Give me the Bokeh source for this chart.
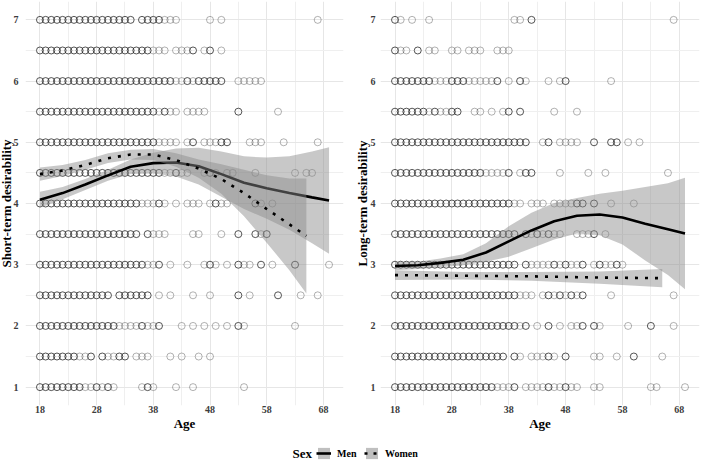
from bokeh.plotting import figure
from bokeh.models import ColumnDataSource, Range1d, FixedTicker, Legend, LegendItem, Label
from bokeh.layouts import column, row
from bokeh.embed import file_html
from bokeh.resources import INLINE

# ---------------- data ----------------
X_TICKS = [18, 28, 38, 48, 58, 68]
X_MINOR = [23, 33, 43, 53, 63]
Y_TICKS = [1, 2, 3, 4, 5, 6, 7]
Y_MINOR = [1.5, 2.5, 3.5, 4.5, 5.5, 6.5]

# Short-term desirability: ages present at each score
ST_AGES = {
    7.0: [18,19,20,21,22,23,24,25,26,27,28,29,30,31,32,33,34,36,37,38,39,40,41,42,48,50,67],
    6.5: [18,19,20,21,22,23,24,25,26,27,28,29,30,31,32,33,34,35,36,37,38,39,40,42,43,44,45,47,48,50],
    6.0: [18,19,20,21,22,23,24,25,26,27,28,29,30,31,32,33,34,35,36,37,38,39,40,41,42,43,44,45,46,47,48,49,50,53,54,55,56,57],
    5.5: [18,19,20,21,22,23,24,25,26,27,28,29,30,31,32,33,34,35,36,37,38,39,40,41,42,44,45,46,47,53,60],
    5.0: [18,19,20,21,22,23,24,25,26,27,28,29,30,31,32,33,34,35,36,37,38,39,40,41,42,44,45,47,48,49,50,51,55,56,57,61,67],
    4.5: [18,19,20,21,22,23,24,25,26,27,28,29,30,31,32,33,34,35,36,37,38,39,40,41,42,43,44,47,48,49,51,52,56,63,65,66],
    4.0: [18,19,20,21,22,23,24,25,26,27,28,29,30,31,32,33,34,35,36,37,38,39,40,42,44,45,46,48,49,50,51,56,57,59],
    3.5: [18,19,20,21,22,23,24,25,26,27,28,29,30,31,32,33,34,35,37,38,39,40,45,46,50,53,56,57,58],
    3.0: [18,19,20,21,22,23,24,25,26,27,28,29,30,31,32,33,34,35,36,37,38,39,41,44,47,48,49,51,53,54,55,57,59,63,69],
    2.5: [18,19,20,21,22,23,24,25,26,27,28,29,30,32,33,34,35,36,37,39,41,45,48,53,55,60,64,67],
    2.0: [18,19,20,21,22,23,24,25,26,27,28,29,30,31,32,33,34,35,36,37,38,39,43,45,47,49,51,53,54,63],
    1.5: [18,19,20,21,22,23,24,25,26,27,29,30,31,32,33,35,36,37,41,43,46,48],
    1.0: [18,19,20,21,22,23,24,25,26,27,28,29,30,31,36,37,38,42,45,54],
}
# ages drawn as faint (single respondent) circles
ST_SINGLE = {
    7.0: [40,41,42,48,50,67],
    6.5: [38,39,40,42,43,44,47,50],
    6.0: [42,43,45,53,54,55,56,57],
    5.5: [39,41,42,44,45,46,47,60],
    5.0: [39,40,41,42,44,47,48,49,55,56,57,61,67],
    4.5: [40,41,43,44,47,49,51,52,56,63,65,66],
    4.0: [36,37,38,40,42,44,45,46,48,50,51,57,59],
    3.5: [38,39,40,45,46,50,57],
    3.0: [37,38,41,44,47,49,51,54,55,59,69],
    2.5: [39,41,45,48,55,64,67],
    2.0: [32,33,34,35,37,38,43,45,47,49,51,54,63],
    1.5: [25,26,30,31,35,36,37,41,43,46,48],
    1.0: [26,27,29,31,36,38,42,45,54],
}

# Long-term desirability
LT_AGES = {
    7.0: [18,19,21,24,39,40,42,67],
    6.5: [18,19,20,22,24,25,28,29,31,32,33,36,37,38],
    6.0: [18,19,20,21,22,23,24,25,26,27,28,29,30,31,32,33,34,35,36,38,40,41,45,47,48,56],
    5.5: [18,19,20,21,22,23,24,25,26,27,28,29,32,33,35,37,38,40,46,50],
    5.0: [18,19,20,21,22,23,24,25,26,27,28,29,30,31,32,33,34,35,36,37,38,39,40,41,44,45,47,48,49,50,53,56,57,59,61],
    4.5: [18,19,20,21,22,23,24,25,26,27,28,29,30,31,32,33,34,35,36,37,38,40,41,42,47,52,55,66],
    4.0: [18,19,20,21,22,23,24,25,26,27,28,29,30,31,32,33,34,35,36,37,38,39,40,42,43,44,46,47,48,49,50,51,53,56,60],
    3.5: [18,19,20,21,22,23,24,25,26,27,28,29,30,31,32,33,34,35,36,37,38,39,41,42,43,44,45,46,47,50,51,52,53,55],
    3.0: [18,19,20,21,22,23,24,25,26,27,28,29,30,31,32,33,34,35,36,37,38,39,41,42,43,44,45,46,47,48,49,50,51,53,54,55,56,57,58],
    2.5: [18,19,20,21,22,23,24,25,26,27,28,29,30,31,32,33,34,35,36,37,38,39,40,41,42,44,45,46,47,48,49,50,51,56,67],
    2.0: [18,19,20,21,22,23,24,25,26,27,28,29,30,31,32,33,34,35,36,37,38,39,40,41,43,45,47,49,50,51,53,54,59,63,67],
    1.5: [18,19,20,21,22,23,24,25,26,27,28,29,30,31,32,33,34,35,36,37,39,40,42,43,44,45,46,48,53,54,57,60,65],
    1.0: [18,19,20,21,22,23,24,25,26,27,28,29,30,31,32,33,34,35,36,37,38,39,41,42,43,44,45,46,47,48,49,50,53,54,63,64,69],
}
LT_SINGLE = {
    7.0: [19,21,24,39,40,67],
    6.5: [19,20,24,25,28,29,31,32,33,36,37,38],
    6.0: [25,26,27,31,32,33,34,35,38,41,45,47,56],
    5.5: [24,26,27,32,33,35,37,46,50],
    5.0: [44,47,48,49,50,59,61],
    4.5: [34,35,36,37,40,47,52,55,66],
    4.0: [39,40,42,43,44,46,47,48,49,56,60],
    3.5: [42,44,46,47,50,51,52,55],
    3.0: [42,43,44,45,47,49,50,53,55,56,58],
    2.5: [40,41,42,44,46,48,50,56,67],
    2.0: [40,43,47,49,50,54,59,67],
    1.5: [40,42,43,44,46,53,54,57,65],
    1.0: [36,37,38,41,42,43,44,46,47,49,50,53,54,63,64,69],
}

# Smoothed fits (value and half-width of the confidence band)
ST_MEN_AGE = [18, 22, 26, 30, 34, 38, 42, 46, 50, 54, 58, 62, 66, 69]
ST_MEN_FIT = [4.06, 4.17, 4.31, 4.46, 4.60, 4.66, 4.67, 4.61, 4.48, 4.34, 4.25, 4.17, 4.10, 4.05]
ST_MEN_SE = [0.13, 0.10, 0.09, 0.09, 0.12, 0.17, 0.23, 0.30, 0.37, 0.43, 0.50, 0.60, 0.75, 0.87]
ST_WOMEN_AGE = [18, 22, 26, 30, 34, 38, 42, 46, 50, 54, 58, 62, 65]
ST_WOMEN_FIT = [4.48, 4.54, 4.63, 4.74, 4.80, 4.80, 4.71, 4.57, 4.40, 4.17, 3.91, 3.66, 3.47]
ST_WOMEN_SE = [0.11, 0.09, 0.08, 0.08, 0.08, 0.09, 0.11, 0.15, 0.24, 0.38, 0.55, 0.75, 0.94]

LT_MEN_AGE = [18, 22, 26, 30, 34, 38, 42, 46, 50, 54, 58, 62, 66, 69]
LT_MEN_FIT = [2.98, 2.99, 3.03, 3.08, 3.20, 3.38, 3.56, 3.71, 3.80, 3.82, 3.77, 3.67, 3.58, 3.51]
LT_MEN_SE = [0.07, 0.06, 0.07, 0.09, 0.15, 0.25, 0.29, 0.30, 0.29, 0.34, 0.44, 0.60, 0.75, 0.91]
LT_WOMEN_AGE = [18, 30, 42, 54, 65]
LT_WOMEN_FIT = [2.83, 2.82, 2.81, 2.79, 2.78]
LT_WOMEN_SE = [0.08, 0.06, 0.07, 0.10, 0.15]

SERIES = ["Men", "Women"]
X_TITLE = "Age"
Y_TITLES = ["Short-term desirability", "Long-term desirability"]
LEGEND_TITLE = "Sex"

# ---------------- styling ----------------
FONT = "Liberation Serif"
BAND = "#8b8b8b"
BAND_ALPHA = 0.47
X_RANGE = (15.45, 71.55)
Y_RANGE = (0.7, 7.3)


def point_source(ages, singles):
    xs, ys, al = [], [], []
    for score, lst in ages.items():
        for a in lst:
            xs.append(a)
            ys.append(score)
            al.append(0.36 if a in singles.get(score, []) else 0.8)
    return ColumnDataSource(dict(x=xs, y=ys, a=al))


def band_source(age, fit, se):
    return ColumnDataSource(dict(
        x=age, fit=fit,
        lo=[f - s for f, s in zip(fit, se)],
        hi=[f + s for f, s in zip(fit, se)],
    ))


def make_panel(ages, singles, men, women, ylabel, width, shift, border_left, border_right,
               label_standoff, title_standoff):
    p = figure(width=width, height=443, x_range=Range1d(*X_RANGE), y_range=Range1d(*Y_RANGE),
               output_backend="svg", toolbar_location=None,
               min_border_left=border_left, min_border_right=border_right,
               min_border_top=1, min_border_bottom=38, margin=(0, 0, 0, shift))
    p.outline_line_color = None
    p.background_fill_color = "white"
    p.border_fill_color = "white"

    src = point_source(ages, singles)
    p.scatter("x", "y", source=src, marker="circle", size=7, fill_color=None,
              line_color="#2a2a2a", line_alpha="a", line_width=1)

    ms = band_source(*men)
    ws = band_source(*women)
    p.varea(x="x", y1="lo", y2="hi", source=ms, fill_color=BAND, fill_alpha=BAND_ALPHA)
    p.line("x", "fit", source=ms, line_color="black", line_width=2.6)
    p.varea(x="x", y1="lo", y2="hi", source=ws, fill_color=BAND, fill_alpha=BAND_ALPHA)
    p.line("x", "fit", source=ws, line_color="black", line_width=2.6,
           line_dash="3 7", line_cap="butt")

    p.xaxis.ticker = FixedTicker(ticks=X_TICKS, minor_ticks=X_MINOR)
    p.yaxis.ticker = FixedTicker(ticks=Y_TICKS, minor_ticks=Y_MINOR)
    for g in (p.xgrid, p.ygrid):
        g.grid_line_color = "#e6e6e6"
        g.grid_line_width = 1
        g.minor_grid_line_color = "#efefef"
        g.minor_grid_line_width = 1
    p.axis.axis_line_color = None
    p.axis.major_tick_line_color = None
    p.axis.minor_tick_line_color = None
    p.axis.major_tick_out = 0
    p.axis.major_tick_in = 0
    p.axis.minor_tick_out = 0
    p.axis.major_label_text_font = FONT
    p.axis.major_label_text_font_style = "bold"
    p.axis.major_label_text_font_size = "10px"
    p.axis.major_label_text_color = "#3c3c3c"
    p.axis.axis_label_text_font = FONT
    p.axis.axis_label_text_font_style = "bold"
    p.axis.axis_label_text_font_size = "13px"
    p.axis.axis_label_text_color = "black"
    p.xaxis.axis_label = X_TITLE
    p.xaxis.major_label_standoff = 0
    p.xaxis.axis_label_standoff = 0
    p.yaxis.axis_label = ylabel
    p.yaxis.major_label_standoff = label_standoff
    p.yaxis.axis_label_standoff = title_standoff
    return p


p1 = make_panel(ST_AGES, ST_SINGLE,
                (ST_MEN_AGE, ST_MEN_FIT, ST_MEN_SE),
                (ST_WOMEN_AGE, ST_WOMEN_FIT, ST_WOMEN_SE),
                Y_TITLES[0], 360, -6, 31, 11, 7, -3)
p2 = make_panel(LT_AGES, LT_SINGLE,
                (LT_MEN_AGE, LT_MEN_FIT, LT_MEN_SE),
                (LT_WOMEN_AGE, LT_WOMEN_FIT, LT_WOMEN_SE),
                Y_TITLES[1], 358, -4, 30, 9, 5, -2)

# ---------------- legend strip ----------------
lf = figure(width=708, height=19, x_range=Range1d(0, 708), y_range=Range1d(0, 19),
            x_axis_type=None, y_axis_type=None, output_backend="svg",
            toolbar_location=None, min_border=0)
lf.outline_line_color = None
lf.grid.visible = False
off = [-50, -40]
mb = lf.varea(x=off, y1=off, y2=off, fill_color=BAND, fill_alpha=0.55)
ml = lf.line(x=off, y=off, line_color="black", line_width=2.6)
wb = lf.varea(x=off, y1=off, y2=off, fill_color=BAND, fill_alpha=0.55)
wl = lf.line(x=off, y=off, line_color="black", line_width=2.6, line_dash="3 6", line_cap="butt")
leg = Legend(items=[LegendItem(label=SERIES[0], renderers=[mb, ml]),
                    LegendItem(label=SERIES[1], renderers=[wb, wl])],
             orientation="horizontal", location=(316, 2), padding=0, margin=0,
             spacing=7, label_standoff=6, glyph_width=15, glyph_height=14,
             label_height=14, border_line_color=None, background_fill_alpha=0,
             label_text_font=FONT, label_text_font_style="bold",
             label_text_font_size="10px", label_text_color="black")
lf.add_layout(leg, "center")
lf.add_layout(Label(x=292, y=9.5, text=LEGEND_TITLE, text_font=FONT, text_font_style="bold",
                    text_font_size="13px", text_color="black", text_baseline="middle"))

layout = column(row(p1, p2), lf)
open("out.html", "w").write(file_html(layout, INLINE))
